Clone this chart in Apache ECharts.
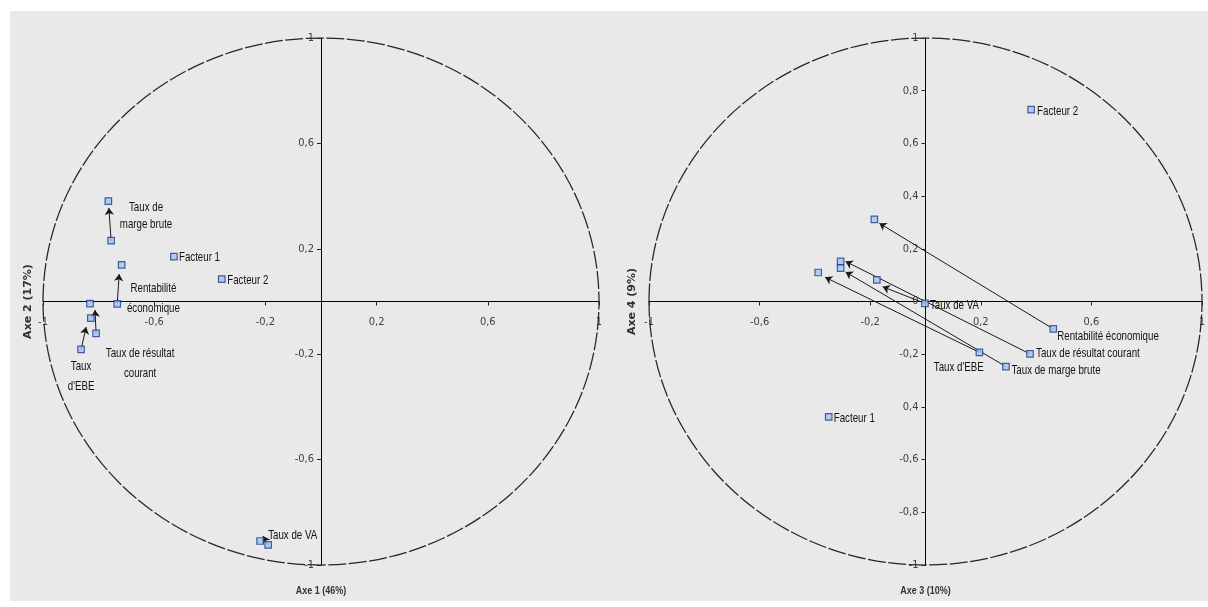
<!DOCTYPE html>
<html><head><meta charset="utf-8">
<script src="https://cdn.jsdelivr.net/npm/echarts@6/dist/echarts.min.js"></script>
<style>html,body{margin:0;padding:0;background:#fff}#c{width:1208px;height:607px}</style>
</head><body><div id="c"></div>
<script>
// ---------- DATA ----------
// Left plane : Axe 1 (46%) x Axe 2 (17%)
const leftVarLabels = ['Taux de\nmarge brute', 'Rentabilité\néconomique', 'Taux de résultat\ncourant', "Taux\nd'EBE", 'Taux de VA'];
const leftStartX = [-0.755, -0.733, -0.809, -0.863, -0.190];
const leftStartY = [0.231, -0.009, -0.121, -0.182, -0.924];
const leftEndX   = [-0.765, -0.717, -0.831, -0.828, -0.219];
const leftEndY   = [0.381, 0.139, -0.008, -0.063, -0.909];
const leftTipX   = [-0.763, -0.726, -0.813, -0.845, -0.209];
const leftTipY   = [0.355, 0.104, -0.032, -0.097, -0.890];
const leftFactorLabels = ['Facteur 1', 'Facteur 2'];
const leftFactorX = [-0.529, -0.357];
const leftFactorY = [0.170, 0.085];

// Right plane : Axe 3 (10%) x Axe 4 (9%)
const rightVarLabels = ['Rentabilité économique', 'Taux de résultat courant', 'Taux de marge brute', "Taux d'EBE", 'Taux de VA'];
const rightStartX = [0.462, 0.378, 0.291, 0.195, -0.002];
const rightStartY = [-0.104, -0.199, -0.247, -0.193, -0.007];
const rightEndX   = [-0.185, -0.307, -0.307, -0.388, -0.176];
const rightEndY   = [0.312, 0.152, 0.127, 0.110, 0.082];
const rightTipX   = [-0.167, -0.289, -0.289, -0.363, -0.155];
const rightTipY   = [0.297, 0.152, 0.112, 0.092, 0.056];
const rightFactorLabels = ['Facteur 1', 'Facteur 2'];
const rightFactorX = [-0.350, 0.382];
const rightFactorY = [-0.438, 0.728];

// Axis titles and tick labels
const axisTitles = ['Axe 1 (46%)', 'Axe 2 (17%)', 'Axe 3 (10%)', 'Axe 4 (9%)'];
const ticks04 = [-1, -0.6, -0.2, 0.2, 0.6, 1];
const ticks04Labels = ['-1', '-0,6', '-0,2', '0,2', '0,6', '1'];
const ticks02 = [-1, -0.8, -0.6, -0.4, -0.2, 0, 0.2, 0.4, 0.6, 0.8, 1];
const ticks02Labels = ['-1', '-0,8', '-0,6', '0,4', '-0,2', '0', '0,2', '0,4', '0,6', '0,8', '1'];

// ---------- LAYOUT / STYLE ----------
const ARIAL = "'Liberation Sans',Arial,sans-serif";
const COND = "'DejaVu Sans Condensed','DejaVu Sans',sans-serif";
const TXT = '#111111';
const NARROW_SCALE = 0.72;
const GRIDS = [
  {left: 43, top: 38, width: 556, height: 527},
  {left: 649, top: 38, width: 553, height: 527}
];
const leftVarLayout = [
  {at: 'end',   off: [37.7, 14.5], align: 'center', lh: 17.6},
  {at: 'start', off: [36.2, -5.7], align: 'center', lh: 20},
  {at: 'start', off: [44, 29.7],   align: 'center', lh: 19.5},
  {at: 'start', off: [0, 26.5],    align: 'center', lh: 20},
  {at: 'start', off: [0, -10],     align: 'left',   lh: 16}
];
const leftFactorLayout = [{off: [5, 0.5]}, {off: [5.5, 1]}];
const rightVarLayout = [
  {at: 'start', off: [4, 7],      align: 'left',   lh: 16},
  {at: 'start', off: [6, -0.7],   align: 'left',   lh: 16},
  {at: 'start', off: [5.5, 3.8],  align: 'left',   lh: 16},
  {at: 'start', off: [-20.6, 15], align: 'center', lh: 16},
  {at: 'start', off: [5, 2],      align: 'left',   lh: 16}
];
const rightFactorLayout = [{off: [5, 1]}, {off: [6, 1.5]}];

function lookup(vals, labels) {
  return function (v) {
    for (let i = 0; i < vals.length; i++) if (Math.abs(vals[i] - v) < 1e-6) return labels[i];
    return '';
  };
}

function xAxisOpt(g) {
  return {
    gridIndex: g, type: 'value', min: -1, max: 1, interval: 0.4, position: 'bottom',
    offset: -GRIDS[g].height / 2,
    axisLine: {onZero: false, lineStyle: {color: '#000', width: 1}},
    axisTick: {show: true, length: 4, lineStyle: {color: '#222'}},
    axisLabel: {formatter: lookup(ticks04, ticks04Labels), fontSize: 11, color: '#404040', fontFamily: COND, margin: 15},
    splitLine: {show: false}
  };
}
function yAxisOpt(g, step, vals, labels) {
  return {
    gridIndex: g, type: 'value', min: -1, max: 1, interval: step, position: 'left',
    offset: -GRIDS[g].width / 2,
    axisLine: {onZero: false, lineStyle: {color: '#000', width: 1}},
    axisTick: {show: true, length: 4, lineStyle: {color: '#222'}},
    axisLabel: {formatter: lookup(vals, labels), fontSize: 11, color: '#404040', fontFamily: COND, margin: 7},
    splitLine: {show: false}
  };
}

function buildSeries(g, labels, sx, sy, ex, ey, tx, ty, fLabels, fx, fy, layout, fLayout) {
  const circle = {
    type: 'custom', xAxisIndex: g, yAxisIndex: g, silent: true, z: 1,
    data: [[0, 0]],
    renderItem: function (params, api) {
      const c = api.coord([0, 0]);
      const p = api.coord([1, 1]);
      return {
        type: 'ellipse',
        shape: {cx: c[0], cy: c[1], rx: p[0] - c[0], ry: c[1] - p[1]},
        style: {fill: 'none', stroke: '#262626', lineWidth: 1.25, lineDash: [18, 2.5]}
      };
    }
  };
  const arrows = {
    type: 'lines', coordinateSystem: 'cartesian2d', xAxisIndex: g, yAxisIndex: g, silent: true, z: 3,
    symbol: ['none', 'arrow'], symbolSize: 7,
    lineStyle: {color: '#1a1a1a', width: 1, opacity: 1},
    data: sx.map((v, i) => ({coords: [[sx[i], sy[i]], [tx[i], ty[i]]]}))
  };
  const pts = [];
  labels.forEach((t, i) => {
    pts.push([sx[i], sy[i]]);
    pts.push([ex[i], ey[i]]);
  });
  fLabels.forEach((t, i) => pts.push([fx[i], fy[i]]));
  const scatter = {
    type: 'scatter', xAxisIndex: g, yAxisIndex: g, silent: true, z: 5, data: pts,
    symbol: 'rect', symbolSize: [6.5, 6.5],
    itemStyle: {color: '#a3c4f0', borderColor: '#1d3c8f', borderWidth: 1.2}
  };
  // text labels (anchored on their points, narrow Arial-like text)
  const labItems = [];
  labels.forEach((t, i) => {
    const L = layout[i];
    const at = L.at === 'start' ? [sx[i], sy[i]] : [ex[i], ey[i]];
    labItems.push({value: at, text: t, off: L.off, align: L.align, lh: L.lh});
  });
  fLabels.forEach((t, i) => {
    labItems.push({value: [fx[i], fy[i]], text: t, off: fLayout[i].off, align: 'left', lh: 16});
  });
  const textSeries = {
    type: 'custom', xAxisIndex: g, yAxisIndex: g, silent: true, z: 6,
    data: labItems.map(d => d.value),
    renderItem: function (params, api) {
      const d = labItems[params.dataIndex];
      const p = api.coord([api.value(0), api.value(1)]);
      return {
        type: 'text', x: p[0] + d.off[0], y: p[1] + d.off[1], scaleX: NARROW_SCALE,
        style: {text: d.text, fontFamily: ARIAL, fontSize: 13.5, fill: TXT, align: d.align,
          verticalAlign: 'middle', lineHeight: d.lh}
      };
    }
  };
  return [circle, arrows, scatter, textSeries];
}

function title(text, x, y, rot) {
  if (rot) {
    return {type: 'text', x: x, y: y, rotation: Math.PI / 2, z: 10, silent: true,
      style: {text: text, fontFamily: "'DejaVu Sans',sans-serif", fontWeight: 'bold', fontSize: 11,
        fill: '#333', align: 'center', verticalAlign: 'middle'}};
  }
  return {type: 'text', x: x, y: y, scaleX: 0.78, z: 10, silent: true,
    style: {text: text, fontFamily: ARIAL, fontWeight: 'bold', fontSize: 11.5,
      fill: '#333', align: 'center', verticalAlign: 'middle'}};
}

const chart = echarts.init(document.getElementById('c'), null, {renderer: 'canvas'});
chart.setOption({
  animation: false,
  backgroundColor: '#ffffff',
  graphic: [
    {type: 'rect', left: 10, top: 11, z: -100, silent: true, shape: {width: 1198, height: 590}, style: {fill: '#e9e9e9'}},
    title(axisTitles[0], GRIDS[0].left + GRIDS[0].width / 2, 591, false),
    title(axisTitles[1], 28, GRIDS[0].top + GRIDS[0].height / 2, true),
    title(axisTitles[2], GRIDS[1].left + GRIDS[1].width / 2, 591, false),
    title(axisTitles[3], 632, GRIDS[1].top + GRIDS[1].height / 2, true)
  ],
  grid: GRIDS.map(r => Object.assign({outerBoundsMode: 'none', containLabel: false}, r)),
  xAxis: [xAxisOpt(0), xAxisOpt(1)],
  yAxis: [yAxisOpt(0, 0.4, ticks04, ticks04Labels), yAxisOpt(1, 0.2, ticks02, ticks02Labels)],
  series: [].concat(
    buildSeries(0, leftVarLabels, leftStartX, leftStartY, leftEndX, leftEndY, leftTipX, leftTipY,
      leftFactorLabels, leftFactorX, leftFactorY, leftVarLayout, leftFactorLayout),
    buildSeries(1, rightVarLabels, rightStartX, rightStartY, rightEndX, rightEndY, rightTipX, rightTipY,
      rightFactorLabels, rightFactorX, rightFactorY, rightVarLayout, rightFactorLayout)
  )
});
</script></body></html>
